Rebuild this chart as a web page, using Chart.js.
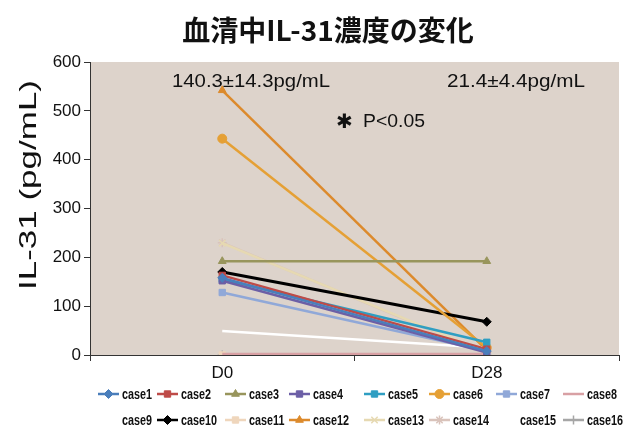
<!DOCTYPE html>
<html>
<head>
<meta charset="utf-8">
<script src="https://cdn.jsdelivr.net/npm/chart.js@4"></script>
<style>
  html, body { margin: 0; padding: 0; background: #fff; }
  #wrap { width: 641px; height: 433px; }
</style>
</head>
<body>
<div id="wrap"><canvas id="c" width="641" height="433"></canvas></div>
<script>
// 血清中IL-31濃度の変化 - D0 vs D28 per case

const timepoints = ['D0', 'D28'];
const caseNames = ['case1', 'case2', 'case3', 'case4', 'case5', 'case6', 'case7', 'case8',
                   'case9', 'case10', 'case11', 'case12', 'case13', 'case14', 'case15', 'case16'];
const valuesD0  = [158, 163, 192, 152, 155, 443, 128, 2, 49, 170, 0, 542, 229, 230, 0, 0];
const valuesD28 = [8, 12, 192, 5, 26, 15, 8, 2, 15, 68, 0, 10, 5, 3, 0, 0];
const caseColors = ['#4a7ebb', '#be4b48', '#98955c', '#6c5fa6', '#2f9ec2', '#e5a035', '#90a8d8', '#d8a0a4',
                    '#ffffff', '#000000', '#efd6bc', '#dc8a2c', '#e6d9b2', '#d9c3bb', '#ffffff', '#a6a6a6'];
const caseMarkers = ['rectRot', 'rect', 'triangle', 'rect', 'rect', 'circle', 'rect', false,
                     false, 'rectRot', 'rect', 'triangle', 'crossRot', 'star', false, 'cross'];
const yTicks = [0, 100, 200, 300, 400, 500, 600];

const FONT = '"Liberation Sans", Arial, sans-serif';

const datasets = caseNames.map((name, i) => ({
  label: name,
  data: [valuesD0[i], valuesD28[i]],
  borderColor: caseColors[i],
  backgroundColor: caseColors[i],
  borderWidth: i === 9 ? 3 : 2.5,
  pointStyle: caseMarkers[i] || 'circle',
  pointRadius: caseMarkers[i] ? 4.5 : 0,
  pointBorderWidth: ['cross', 'crossRot', 'star'].includes(caseMarkers[i]) ? 1.5 : 1,
  tension: 0
}));

// draw text squeezed/stretched horizontally to a given width
function fitText(ctx, text, x, y, width) {
  const w = ctx.measureText(text).width;
  ctx.save();
  ctx.translate(x, y);
  ctx.scale(width / w, 1);
  ctx.fillText(text, 0, 0);
  ctx.restore();
}

// beige plot background
const plotBg = {
  id: 'plotBg',
  beforeDraw(chart) {
    const { ctx, chartArea: a } = chart;
    ctx.save();
    ctx.fillStyle = '#ddd3cb';
    ctx.fillRect(a.left, a.top, a.right - a.left, a.bottom - a.top);
    ctx.restore();
  }
};

// title, axis title, annotations and legend
const decorations = {
  id: 'decorations',
  afterDraw(chart) {
    const ctx = chart.ctx;
    ctx.save();

    // main title
    ctx.fillStyle = '#111';
    ctx.textAlign = 'center';
    ctx.textBaseline = 'middle';
    ctx.font = 'bold 28px "Noto Sans CJK JP", sans-serif';
    ctx.fillText('血清中IL-31濃度の変化', 328, 30);

    // y axis title (stretched like the original)
    ctx.save();
    ctx.translate(29, 185);
    ctx.rotate(-Math.PI / 2);
    ctx.font = '24px ' + FONT;
    fitText(ctx, 'IL-31 (pg/mL)', 0, 0, 210);
    ctx.restore();

    // annotations
    ctx.textAlign = 'left';
    ctx.font = '18px ' + FONT;
    fitText(ctx, '140.3±14.3pg/mL', 172, 82, 158);
    fitText(ctx, '21.4±4.4pg/mL', 447, 82, 138);
    ctx.font = 'bold 20px "DejaVu Sans", sans-serif';
    ctx.fillText('✱', 336, 123);
    ctx.font = '18px ' + FONT;
    fitText(ctx, 'P<0.05', 363, 122, 62);

    // legend, two rows of eight
    const textX = [122, 181, 249, 313, 388, 453, 520, 587];
    const rowY = [394, 420];
    ctx.font = 'bold 15px ' + FONT;
    const squeeze = 30 / ctx.measureText('case1').width;
    chart.data.datasets.forEach((ds, i) => {
      const tx = textX[i % 8];
      const y = rowY[Math.floor(i / 8)];
      ctx.strokeStyle = ds.borderColor;
      ctx.lineWidth = 2.5;
      ctx.beginPath();
      ctx.moveTo(tx - 24, y);
      ctx.lineTo(tx - 3, y);
      ctx.stroke();
      if (ds.pointRadius > 0) {
        ctx.fillStyle = ds.backgroundColor;
        ctx.lineWidth = ds.pointBorderWidth;
        Chart.helpers.drawPoint(ctx, {
          pointStyle: ds.pointStyle, radius: 4.5, rotation: 0, borderWidth: ds.pointBorderWidth
        }, tx - 13.5, y);
      }
      ctx.fillStyle = '#111';
      ctx.font = 'bold 15px ' + FONT;
      ctx.textBaseline = 'middle';
      fitText(ctx, ds.label, tx, y + 1, ctx.measureText(ds.label).width * squeeze);
    });

    ctx.restore();
  }
};

new Chart(document.getElementById('c'), {
  type: 'line',
  data: { labels: timepoints, datasets: datasets },
  options: {
    responsive: false,
    animation: false,
    layout: { padding: { top: 62, right: 22, bottom: 0, left: 0 } },
    plugins: {
      legend: { display: false },
      title: { display: false },
      tooltip: { enabled: false }
    },
    scales: {
      x: {
        offset: true,
        grid: { offset: true, drawOnChartArea: false, drawTicks: true, tickLength: 6, color: '#333' },
        border: { display: true, color: '#333', width: 1 },
        ticks: { color: '#111', font: { family: FONT, size: 17 }, padding: 2 },
        afterFit(scale) { scale.height = 78; }
      },
      y: {
        min: 0,
        max: 600,
        afterBuildTicks(scale) { scale.ticks = yTicks.map(v => ({ value: v })); },
        grid: { drawOnChartArea: false, drawTicks: true, tickLength: 6, color: '#333' },
        border: { display: true, color: '#333', width: 1 },
        ticks: { color: '#111', font: { family: FONT, size: 17 }, padding: 3 },
        afterFit(scale) { scale.width = 90; }
      }
    }
  },
  plugins: [plotBg, decorations]
});
</script>
</body>
</html>
